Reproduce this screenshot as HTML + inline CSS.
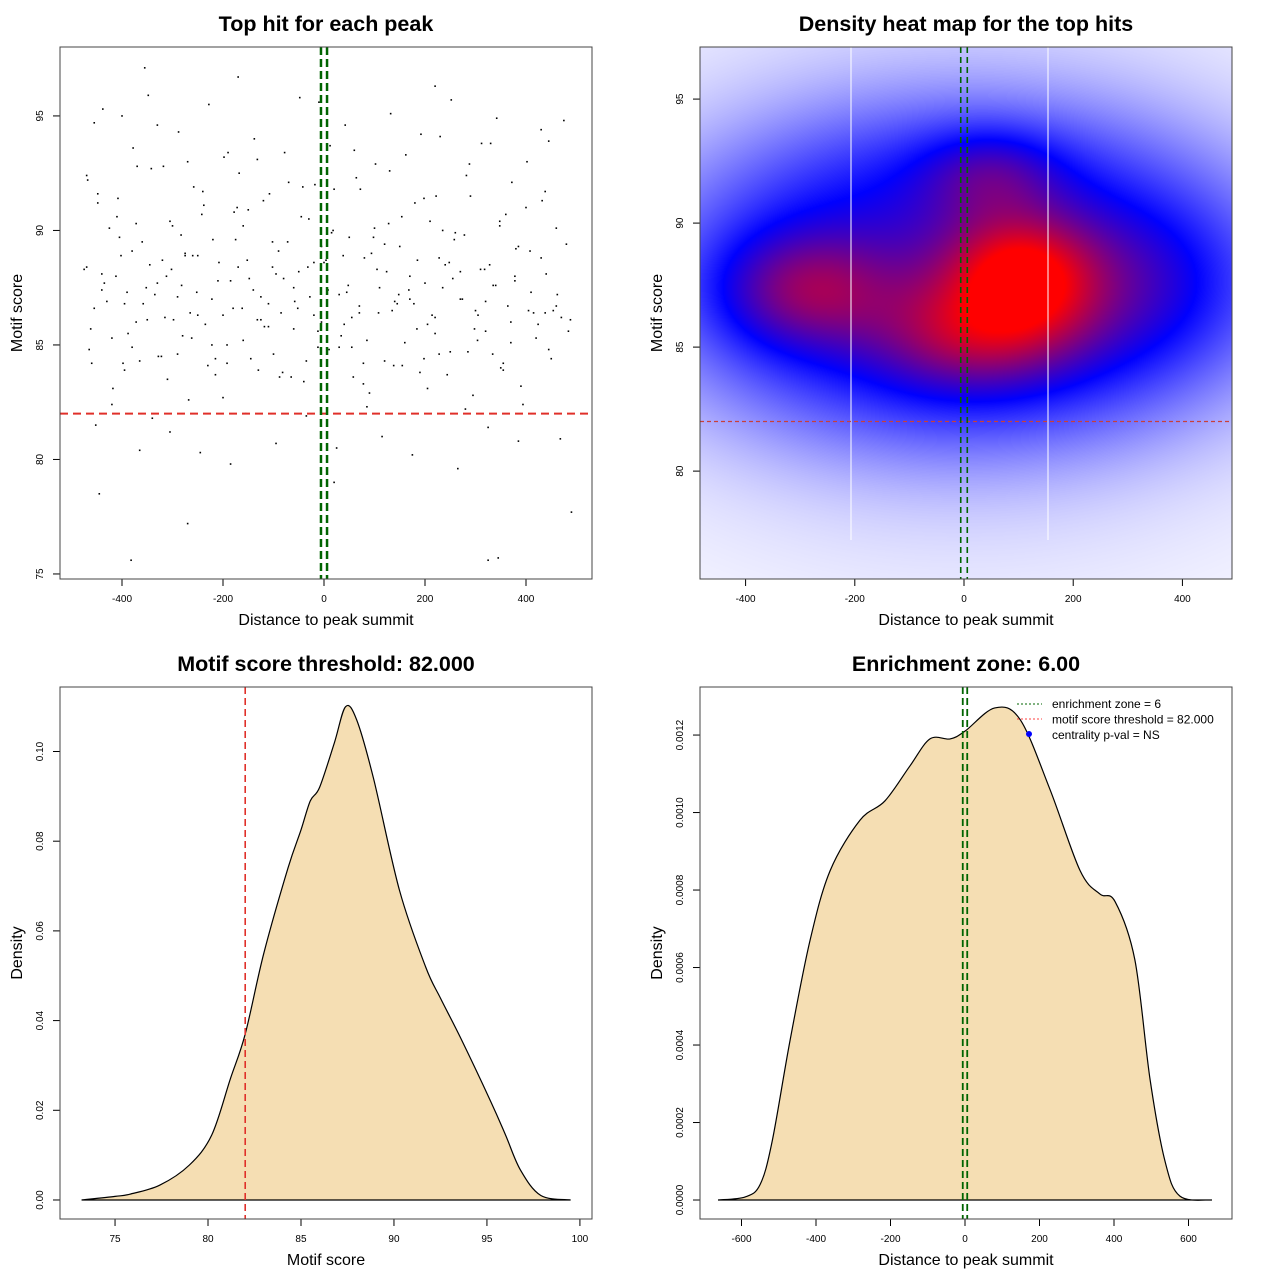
<!DOCTYPE html>
<html><head><meta charset="utf-8"><style>
body{margin:0;background:#fff}
#wrap{position:relative;width:1280px;height:1280px;font-family:"Liberation Sans",sans-serif;overflow:hidden}
svg{position:absolute;left:0;top:0}
canvas{position:absolute;left:700px;top:47px}
</style></head><body>
<div id="wrap">
<canvas id="heat" width="532" height="532"></canvas>
<svg id="s" width="1280" height="1280" xmlns="http://www.w3.org/2000/svg"></svg>
</div>
<script>
// ---------- data ----------
const scatterX=[-355,-382,-270,-445,325,345,490,-170,220,20,-470,-460,-455,-440,-430,-420,-410,-400,-390,-380,-370,-360,-350,-340,-330,-320,-310,-300,-290,-280,-270,-260,-250,-240,-230,-220,-210,-200,-190,-180,-170,-160,-150,-140,-130,-120,-110,-100,-90,-80,-70,-60,-50,-40,-30,-20,-10,0,10,20,30,40,50,60,70,80,90,100,110,120,130,140,150,160,170,180,190,200,210,220,230,240,250,260,270,280,290,300,310,320,330,340,350,360,370,380,390,400,410,420,430,440,450,460,470,480,
-465,-448,-435,-418,-402,-388,-372,-358,-342,-328,-312,-298,-283,-268,-252,-238,-222,-208,-192,-178,-162,-148,-132,-118,-102,-88,-72,-58,-42,-28,-12,4,18,34,48,64,78,94,108,124,138,154,168,184,198,214,228,244,258,274,288,304,318,334,348,364,378,394,408,424,438,454,468,484,
-475,-452,-425,-395,-365,-335,-305,-275,-245,-215,-185,-155,-125,-95,-65,-35,-5,25,55,85,115,145,175,205,235,265,295,325,355,385,415,445,475,
-468,-438,-408,-378,-348,-318,-288,-258,-228,-198,-168,-138,-108,-78,-48,-18,12,42,72,102,132,162,192,222,252,282,312,342,372,402,432,462,488,
-470,-420,-380,-330,-290,-250,-200,-160,-110,-60,-20,30,70,120,170,220,270,320,370,430,
-455,-405,-365,-315,-275,-235,-185,-145,-95,-45,-5,45,85,135,185,235,285,335,385,445,
-440,-395,-345,-305,-265,-215,-175,-125,-85,-35,15,55,105,155,205,255,305,355,405,460,
-462,-412,-372,-322,-282,-242,-192,-152,-102,-52,-12,38,78,128,178,228,278,328,378,438,
-448,-398,-352,-302,-262,-222,-172,-132,-82,-32,8,58,98,148,198,248,298,348,398,452];
const scatterY=[97.1,75.6,77.2,78.5,75.6,75.7,77.7,96.7,96.3,79.0,92.4,84.2,94.7,88.1,86.9,82.4,90.6,95.0,87.3,84.9,92.8,89.5,86.1,81.8,94.6,88.7,83.5,90.2,87.1,85.4,93.0,88.9,86.3,91.7,84.1,89.6,87.8,82.7,93.4,86.6,88.4,85.2,90.9,87.4,83.9,91.3,86.8,84.6,89.1,87.9,92.1,85.7,88.2,83.4,90.5,86.3,95.6,88.6,84.8,91.8,87.2,85.9,89.7,93.5,86.4,88.8,82.9,90.1,87.5,84.3,92.6,86.9,89.3,85.1,88.0,91.2,83.8,87.7,90.4,86.2,94.1,88.5,84.7,89.9,87.0,82.2,91.5,86.5,88.3,85.6,93.8,87.6,84.0,90.7,86.0,89.2,83.2,91.0,87.3,85.3,94.4,88.1,84.4,86.7,
86.2,89.4,84.8,91.6,87.7,83.1,88.9,85.5,90.3,86.8,92.7,84.5,88.0,86.1,89.8,82.6,87.3,91.1,85.0,88.6,84.2,90.8,86.6,87.9,93.1,85.8,88.4,83.6,89.5,86.9,91.9,87.1,84.9,88.7,90.0,85.4,87.6,92.3,83.3,89.0,86.4,88.2,84.1,90.6,87.4,85.7,91.4,86.3,88.8,83.7,89.6,87.0,92.9,85.2,88.3,84.6,90.2,86.7,87.8,82.4,89.1,85.9,91.7,86.5,
80.9,85.6,88.3,81.5,90.1,83.9,80.4,87.2,81.2,88.9,80.3,84.4,79.8,82.0,86.1,80.7,83.6,81.9,89.3,80.5,84.9,82.3,81.0,86.8,80.2,83.1,87.5,79.6,82.8,81.4,84.2,80.8,86.4,
93.9,94.8,92.2,95.3,91.4,93.6,95.9,92.8,94.3,91.9,95.5,93.2,92.5,94.0,91.6,93.4,95.8,92.0,93.7,94.6,91.8,92.9,95.1,93.3,94.2,91.5,95.7,92.4,93.8,94.9,92.1,93.0,91.3,
87.2,86.1,88.4,85.3,89.1,87.7,84.6,88.9,86.3,90.2,85.8,87.5,88.6,84.9,86.7,89.4,87.0,85.5,88.2,86.9,
85.1,88.8,86.6,89.7,84.3,86.2,89.0,85.9,87.8,84.4,88.1,90.6,86.0,87.3,85.2,86.5,88.7,90.0,84.7,87.6,
89.3,84.8,87.4,86.8,88.5,90.4,86.4,83.7,89.6,87.1,86.4,84.3,89.9,86.2,88.3,84.1,85.9,87.9,86.3,83.9,
86.5,90.1,85.7,88.0,86.0,84.5,87.6,90.7,85.0,88.7,89.5,86.6,85.6,88.9,84.2,90.3,86.8,84.6,89.8,88.5,
88.0,86.4,91.2,84.2,87.5,88.3,85.3,87.0,91.0,86.1,83.8,88.4,87.4,83.6,89.7,87.2,84.4,88.6,85.7,90.4];
const xTicks1=[-400,-200,0,200,400], yTicks1=[75,80,85,90,95];
const xTicks2=[-400,-200,0,200,400], yTicks2=[80,85,90,95];
const scoreX=[73.2,75,75.8,77.4,79,80.2,81.2,82,83,84.3,85,85.5,86,86.8,87.4,88,88.9,90.3,91.7,92.5,93.6,95.2,96,96.8,97.9,99.5];
const scoreD=[0,0.0008,0.0013,0.0033,0.0078,0.0145,0.027,0.037,0.055,0.074,0.0825,0.089,0.092,0.102,0.110,0.107,0.094,0.069,0.052,0.045,0.036,0.022,0.0145,0.0067,0.001,0];
const xTicks3=[75,80,85,90,95,100], yTicks3=[0,0.02,0.04,0.06,0.08,0.10], yLabels3=["0.00","0.02","0.04","0.06","0.08","0.10"];
const distX=[-663,-590,-550,-518,-470,-416,-362,-282,-215,-148,-94,-40,0,80,148,228,309,362,403,456,497,537,577,663];
const distD=[0,0.000008,0.00004,0.00015,0.00041,0.00067,0.00085,0.00098,0.00103,0.00112,0.00119,0.00119,0.00121,0.00127,0.00124,0.00106,0.00085,0.00079,0.00077,0.00062,0.00031,0.0001,0.00001,0];
const xTicks4=[-600,-400,-200,0,200,400,600], yTicks4=[0,0.0002,0.0004,0.0006,0.0008,0.001,0.0012], yLabels4=["0.0000","0.0002","0.0004","0.0006","0.0008","0.0010","0.0012"];
const threshold=82, zone=6;
// density blobs for heatmap: x, y, sx, sy, weight
const blobX=[80,-290,20,300,50,150], blobY=[88.2,87.3,85.6,87.5,92,87.5], blobSX=[90,110,120,140,90,80], blobSY=[1.5,1.6,1.6,2.2,1.3,1.8], blobW=[0.3,0.3,0.32,0.15,0.2,0.15];
const baseCX=0, baseCY=87.8, baseSX=470, baseSY=5.6, baseW=0.4;
const haloSX=480, haloSY=7.5, haloW=0.18;

// ---------- helpers ----------
const NS="http://www.w3.org/2000/svg", S=document.getElementById('s');
function mk(tag,attrs,parent){const e=document.createElementNS(NS,tag);for(const k in attrs)e.setAttribute(k,attrs[k]);(parent||S).appendChild(e);return e;}
function lin(d0,d1,r0,r1){return v=>r0+(v-d0)/(d1-d0)*(r1-r0);}
function txt(x,y,s,size,opts,parent){const t=mk('text',Object.assign({x:x,y:y,'font-size':size,'text-anchor':'middle',fill:'#000'},opts||{}),parent);t.textContent=s;return t;}
function smooth(pts){let d='M'+pts[0][0]+','+pts[0][1];for(let i=0;i<pts.length-1;i++){const p0=pts[Math.max(0,i-1)],p1=pts[i],p2=pts[i+1],p3=pts[Math.min(pts.length-1,i+2)];
d+=` C${p1[0]+(p2[0]-p0[0])/6},${p1[1]+(p2[1]-p0[1])/6} ${p2[0]-(p3[0]-p1[0])/6},${p2[1]-(p3[1]-p1[1])/6} ${p2[0]},${p2[1]}`;}return d;}
function panel(name,L,T,W,H,sx,sy,xt,xl,yt,yl,title,xtitle,ytitle){
 const g=mk('g',{});
 const B=T+H;
 xt.forEach((v,i)=>{const x=sx(v);mk('line',{x1:x,y1:B,x2:x,y2:B+7,stroke:'#000'},g);txt(x,B+23,xl[i],10,{},g);});
 mk('line',{x1:sx(xt[0]),y1:B,x2:sx(xt[xt.length-1]),y2:B,stroke:'#000'},g);
 yt.forEach((v,i)=>{const y=sy(v);mk('line',{x1:L,y1:y,x2:L-7,y2:y,stroke:'#000'},g);txt(L-17,y,yl[i],10,{transform:`rotate(-90 ${L-17} ${y})`},g);});
 const tt=txt(L+W/2,T-16,title,21.5,{'font-weight':'bold'},g);
 const xa=txt(L+W/2,B+46,xtitle,16,{},g);
 const cy=T+H/2, cx=L-38;
 const ya=txt(cx,cy,ytitle,16,{transform:`rotate(-90 ${cx} ${cy})`},g);
 
 return g;}
function box(L,T,W,H){const r=mk('rect',{x:L,y:T,width:W,height:H,fill:'none',stroke:'#444','stroke-width':1});}

// ---------- panel 1 scatter ----------
{const sx=lin(-522.8,530.7,60,592), sy=lin(74.78,98.01,579,47);
 const g=panel('scatter-panel',60,47,532,532,sx,sy,xTicks1,xTicks1.map(String),yTicks1,yTicks1.map(String),'Top hit for each peak','Distance to peak summit','Motif score');
 const n=Math.min(scatterX.length,scatterY.length);
 for(let i=0;i<n;i++){const r=mk('rect',{x:sx(scatterX[i])-0.8,y:sy(scatterY[i])-0.8,width:1.6,height:1.6,fill:'#000'},g);}
 const h=mk('line',{x1:60,x2:592,y1:sy(threshold),y2:sy(threshold),stroke:'#e0302a','stroke-width':2,'stroke-dasharray':'8,5'},g);
 [-zone,zone].forEach(z=>{const l=mk('line',{x1:sx(z),x2:sx(z),y1:47,y2:579,stroke:'#006400','stroke-width':2.5,'stroke-dasharray':'8,4'},g);});
 box(60,47,532,532);}

// ---------- panel 2 heatmap ----------
{const sx=lin(-483.5,490.8,700,1232), sy=lin(75.65,97.1,579,47);
 const cv=document.getElementById('heat'),ctx=cv.getContext('2d'),img=ctx.createImageData(532,532);
 const ix=lin(700,1232,-483.5,490.8), iy=lin(579,47,75.65,97.1);
 for(let py=0;py<532;py++){const vy=iy(47+py+0.5);for(let px=0;px<532;px++){const vx=ix(700+px+0.5);
  let f=0;for(let b=0;b<blobX.length;b++){const dx=(vx-blobX[b])/blobSX[b],dy=(vy-blobY[b])/blobSY[b];f+=blobW[b]*Math.exp(-0.5*(dx*dx+dy*dy));}
  const bx=(vx-baseCX)/baseSX,by=(vy-baseCY)/baseSY;f+=baseW*Math.exp(-0.5*Math.pow(bx*bx+by*by,1.6));
  const hx=(vx-baseCX)/haloSX,hy=(vy-baseCY)/haloSY;f+=haloW*Math.exp(-0.5*(hx*hx+hy*hy));
  const t=Math.min(1,f);let r,gg,bb;
  if(t<0.5){const s=t/0.5;r=255*(1-s);gg=255*(1-s);bb=255;}else{const s=(t-0.5)/0.5;r=255*s;gg=0;bb=255*(1-s);}
  const k=(py*532+px)*4;img.data[k]=r;img.data[k+1]=gg;img.data[k+2]=bb;img.data[k+3]=255;}}
 ctx.putImageData(img,0,0);
 const g=panel('heatmap-panel',700,47,532,532,sx,sy,xTicks2,xTicks2.map(String),yTicks2,yTicks2.map(String),'Density heat map for the top hits','Distance to peak summit','Motif score');
 [851,1048].forEach(x=>{const l=mk('line',{x1:x,x2:x,y1:47,y2:540,stroke:'#fff','stroke-width':1},g);});
 const h=mk('line',{x1:700,x2:1232,y1:sy(threshold),y2:sy(threshold),stroke:'#c8403a','stroke-width':1.2,'stroke-dasharray':'4,3'},g);
 [-zone,zone].forEach(z=>{const l=mk('line',{x1:sx(z),x2:sx(z),y1:47,y2:579,stroke:'#006400','stroke-width':1.6,'stroke-dasharray':'6,4'},g);});
 box(700,47,532,532);}

// ---------- panel 3 score density ----------
{const sx=lin(72.04,100.65,60,592), sy=lin(-0.00424,0.11438,1219,687);
 const g=panel('score-density-panel',60,687,532,532,sx,sy,xTicks3,xTicks3.map(String),yTicks3,yLabels3,'Motif score threshold: 82.000','Motif score','Density');
 const pts=scoreX.map((x,i)=>[sx(x),sy(scoreD[i])]);
 const p=mk('path',{d:smooth(pts)+` L${sx(scoreX[scoreX.length-1])},${sy(0)} L${sx(scoreX[0])},${sy(0)} Z`,fill:'#f5deb3',stroke:'#000','stroke-width':1.2},g);
 const l=mk('line',{x1:sx(threshold),x2:sx(threshold),y1:687,y2:1219,stroke:'#e0302a','stroke-width':1.6,'stroke-dasharray':'7,4'},g);
 box(60,687,532,532);}

// ---------- panel 4 distance density ----------
{const sx=lin(-711.4,716.8,700,1232), sy=lin(-0.000049,0.001324,1219,687);
 const g=panel('distance-density-panel',700,687,532,532,sx,sy,xTicks4,xTicks4.map(String),yTicks4,yLabels4,'Enrichment zone: 6.00','Distance to peak summit','Density');
 const pts=distX.map((x,i)=>[sx(x),sy(distD[i])]);
 const p=mk('path',{d:smooth(pts)+` L${sx(distX[distX.length-1])},${sy(0)} L${sx(distX[0])},${sy(0)} Z`,fill:'#f5deb3',stroke:'#000','stroke-width':1.2},g);
 [-zone,zone].forEach(z=>{const l=mk('line',{x1:sx(z),x2:sx(z),y1:687,y2:1219,stroke:'#006400','stroke-width':1.8,'stroke-dasharray':'7,4'},g);});
 const lg=mk('g',{},g);
 mk('line',{x1:1017,x2:1042,y1:704,y2:704,stroke:'#006400','stroke-dasharray':'2,2'},lg);
 mk('line',{x1:1017,x2:1042,y1:719,y2:719,stroke:'#ff4040','stroke-dasharray':'2,2'},lg);
 mk('circle',{cx:1029,cy:734,r:3,fill:'#0000ff'},lg);
 const labs=['enrichment zone = 6','motif score threshold = 82.000','centrality p-val = NS'];
 labs.forEach((s,i)=>{const t=txt(1052,708+i*15.5,s,12,{'text-anchor':'start'},lg);});
 box(700,687,532,532);}
</script>
</body></html>
